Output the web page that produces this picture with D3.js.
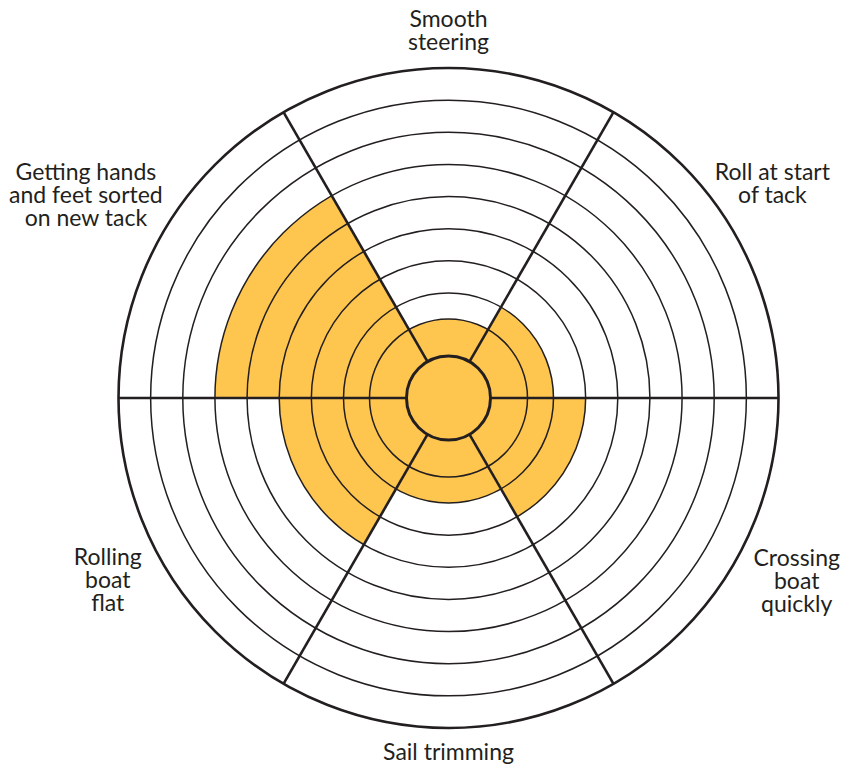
<!DOCTYPE html>
<html>
  <head>
    <meta charset="utf-8">
    <title>Tacking wheel</title>
    <script src="https://d3js.org/d3.v7.min.js"></script>
    <style>
      body { margin: 0; background: #fff; }
      text { font-family: "Lato", "Noto Sans", sans-serif; fill: #231f20; }
    </style>
  </head>
  <body>
    <svg id="chart"></svg>
    <script>
      // segments, clockwise from the top
      var categories = ["Smooth steering", "Roll at start of tack", "Crossing boat quickly",
                        "Sail trimming", "Rolling boat flat", "Getting hands and feet sorted on new tack"];
      var labelLines = [["Smooth", "steering"], ["Roll at start", "of tack"], ["Crossing", "boat", "quickly"],
                        ["Sail trimming"], ["Rolling", "boat", "flat"], ["Getting hands", "and feet sorted", "on new tack"]];
      var scores = [1, 2, 3, 2, 4, 6];
      var levels = [1, 2, 3, 4, 5, 6, 7, 8, 9];

      var width = 853, height = 768;
      var cx = 448.5, cy = 398;
      var ink = "#231f20", fillColor = "#ffc64f";

      // ring radii (first band a little wider than the rest)
      var r = d3.scaleLinear().domain([0, 1, 2, 9]).range([42, 79, 105, 330]);

      var angle = d3.scaleLinear().domain([0, categories.length]).range([0, 2 * Math.PI]);
      var half = Math.PI / categories.length;

      // label placement: distance from the centre and a small turn (degrees), per segment
      var labelR = [367, 388, 394, 355, 387, 415];
      var labelTurn = [0, -3.4, -2.1, 0, 1.7, -0.9];

      var svg = d3.select("#chart")
        .attr("width", width)
        .attr("height", height);

      var g = svg.append("g")
        .attr("transform", "translate(" + cx + "," + cy + ")");

      // filled wedges
      var arc = d3.arc()
        .innerRadius(0)
        .outerRadius(function(d) { return r(d.v); })
        .startAngle(function(d) { return angle(d.i) - half; })
        .endAngle(function(d) { return angle(d.i) + half; });

      g.selectAll("path.score")
        .data(scores.map(function(v, i) { return { v: v, i: i }; }))
        .enter().append("path")
        .attr("class", "score")
        .attr("d", arc)
        .attr("fill", fillColor);

      // rings
      g.selectAll("circle.ring")
        .data(levels)
        .enter().append("circle")
        .attr("class", "ring")
        .attr("r", function(d) { return r(d); })
        .attr("fill", "none")
        .attr("stroke", ink)
        .attr("stroke-width", function(d) { return d === 9 ? 2.6 : 1.5; });

      // spokes between segments
      g.selectAll("line.spoke")
        .data(categories)
        .enter().append("line")
        .attr("class", "spoke")
        .attr("x1", function(d, i) { return d3.pointRadial(angle(i) + half, r(0))[0]; })
        .attr("y1", function(d, i) { return d3.pointRadial(angle(i) + half, r(0))[1]; })
        .attr("x2", function(d, i) { return d3.pointRadial(angle(i) + half, r(9))[0]; })
        .attr("y2", function(d, i) { return d3.pointRadial(angle(i) + half, r(9))[1]; })
        .attr("stroke", ink)
        .attr("stroke-width", 2.6);

      // hub
      g.append("circle")
        .attr("r", r(0))
        .attr("fill", fillColor)
        .attr("stroke", ink)
        .attr("stroke-width", 3);

      // labels
      var lineH = 23;
      var labels = g.selectAll("text.label")
        .data(labelLines)
        .enter().append("text")
        .attr("class", "label")
        .attr("text-anchor", "middle")
        .attr("font-size", 23)
        .attr("transform", function(d, i) {
          var p = d3.pointRadial(angle(i) + labelTurn[i] * Math.PI / 180, labelR[i]);
          return "translate(" + p[0] + "," + p[1] + ")";
        });

      labels.selectAll("tspan")
        .data(function(d) { return d.map(function(s, j) { return { s: s, j: j, n: d.length }; }); })
        .enter().append("tspan")
        .attr("x", 0)
        .attr("y", function(d) { return (d.j - (d.n - 1) / 2) * lineH + 7; })
        .text(function(d) { return d.s; });
    </script>
  </body>
</html>
